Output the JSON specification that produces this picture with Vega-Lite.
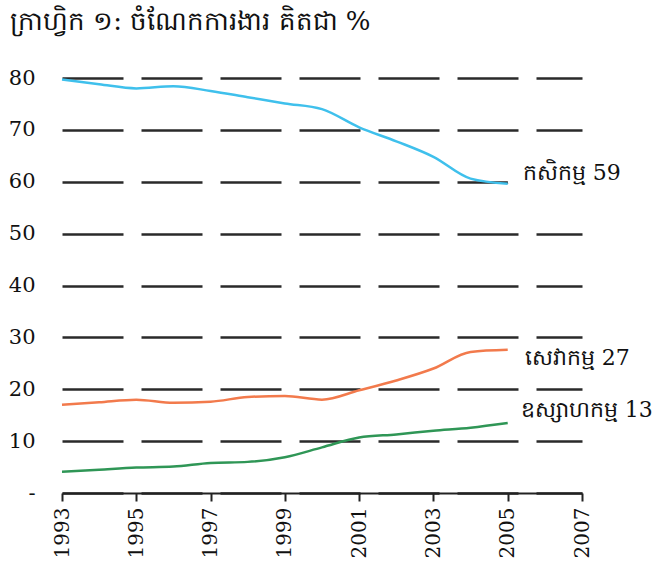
{
  "$schema": "https://vega.github.io/schema/vega-lite/v6.json",
  "autosize": "none",
  "width": 520,
  "height": 415,
  "padding": {"left": 62, "top": 78, "right": 82, "bottom": 71},
  "background": "white",
  "config": {"view": {"stroke": null}, "font": "DejaVu Serif"},
  "title": {
    "text": "ក្រាហ្វិក ១: ចំណែកការងារ គិតជា %",
    "anchor": "start",
    "frame": "group",
    "dx": -52,
    "offset": 32,
    "fontSize": 26,
    "fontWeight": "normal",
    "font": "DejaVu Serif",
    "color": "#111"
  },
  "datasets": {
    "series": [
      {"year": 1993, "sector": "agri", "value": 79.7},
      {"year": 1994, "sector": "agri", "value": 78.8},
      {"year": 1995, "sector": "agri", "value": 78.0},
      {"year": 1996, "sector": "agri", "value": 78.4},
      {"year": 1997, "sector": "agri", "value": 77.5},
      {"year": 1998, "sector": "agri", "value": 76.3},
      {"year": 1999, "sector": "agri", "value": 75.1},
      {"year": 2000, "sector": "agri", "value": 74.0},
      {"year": 2001, "sector": "agri", "value": 70.5},
      {"year": 2002, "sector": "agri", "value": 67.8},
      {"year": 2003, "sector": "agri", "value": 64.8},
      {"year": 2004, "sector": "agri", "value": 60.6},
      {"year": 2005, "sector": "agri", "value": 59.6},
      {"year": 1993, "sector": "serv", "value": 17.0},
      {"year": 1994, "sector": "serv", "value": 17.5},
      {"year": 1995, "sector": "serv", "value": 18.0},
      {"year": 1996, "sector": "serv", "value": 17.4},
      {"year": 1997, "sector": "serv", "value": 17.6},
      {"year": 1998, "sector": "serv", "value": 18.5},
      {"year": 1999, "sector": "serv", "value": 18.7},
      {"year": 2000, "sector": "serv", "value": 18.0},
      {"year": 2001, "sector": "serv", "value": 19.8},
      {"year": 2002, "sector": "serv", "value": 21.7},
      {"year": 2003, "sector": "serv", "value": 24.0},
      {"year": 2004, "sector": "serv", "value": 27.2},
      {"year": 2005, "sector": "serv", "value": 27.6},
      {"year": 1993, "sector": "ind", "value": 4.1},
      {"year": 1994, "sector": "ind", "value": 4.5},
      {"year": 1995, "sector": "ind", "value": 4.9},
      {"year": 1996, "sector": "ind", "value": 5.1},
      {"year": 1997, "sector": "ind", "value": 5.8},
      {"year": 1998, "sector": "ind", "value": 6.0},
      {"year": 1999, "sector": "ind", "value": 6.9},
      {"year": 2000, "sector": "ind", "value": 8.8},
      {"year": 2001, "sector": "ind", "value": 10.7},
      {"year": 2002, "sector": "ind", "value": 11.3},
      {"year": 2003, "sector": "ind", "value": 12.0},
      {"year": 2004, "sector": "ind", "value": 12.6},
      {"year": 2005, "sector": "ind", "value": 13.5}
    ],
    "labels": [
      {"year": 2005, "sector": "agri", "value": 59.6, "label": "កសិកម្ម 59"},
      {"year": 2005, "sector": "serv", "value": 27.6, "label": "សេវាកម្ម  27"},
      {"year": 2005, "sector": "ind", "value": 13.5, "label": "ឧស្សាហកម្ម 13"}
    ]
  },
  "layer": [
    {
      "data": {"name": "labels"},
      "transform": [{"filter": "datum.sector == 'agri'"}],
      "mark": {"type": "point", "shape": "M -1 0 A 1 0.48 0 1 0 1 0 A 1 0.48 0 1 0 -1 0 Z", "size": 15876, "filled": true, "fill": "white", "opacity": 1, "strokeWidth": 0, "xOffset": 63, "yOffset": -4},
      "encoding": {
        "x": {"field": "year", "type": "quantitative"},
        "y": {"field": "value", "type": "quantitative"}
      }
    },
    {
      "data": {"name": "series"},
      "mark": {"type": "line", "strokeWidth": 2.5, "interpolate": "monotone"},
      "encoding": {
        "x": {
          "field": "year", "type": "quantitative",
          "scale": {"domain": [1993, 2007], "nice": false, "zero": false},
          "axis": {
            "title": null,
            "values": [1993,1994,1995,1996,1997,1998,1999,2000,2001,2002,2003,2004,2005,2006,2007],
            "labelExpr": "datum.value % 2 == 1 ? datum.value : ''",
            "labelAngle": -90,
            "labelAlign": "right",
            "labelBaseline": "middle",
            "labelFontSize": 20,
            "labelFont": "DejaVu Serif",
            "labelColor": "#111",
            "labelPadding": 6,
            "labelFlush": false,
            "labelOverlap": false,
            "domainColor": "#222",
            "domainWidth": 2,
            "tickColor": "#222",
            "tickWidth": 2,
            "tickSize": 8,
            "grid": false
          }
        },
        "y": {
          "field": "value", "type": "quantitative",
          "scale": {"domain": [0, 80], "nice": false},
          "axis": {
            "title": null,
            "values": [0,10,20,30,40,50,60,70,80],
            "labelExpr": "datum.value == 0 ? '-' : datum.label",
            "labelFontSize": 21,
            "labelFont": "DejaVu Serif",
            "labelColor": "#111",
            "labelPadding": 27,
            "domain": false,
            "ticks": false,
            "grid": true,
            "gridColor": "#2a2a2a",
            "gridWidth": 2.5,
            "gridDash": [61, 18]
          }
        },
        "color": {
          "field": "sector", "type": "nominal",
          "scale": {"domain": ["agri", "serv", "ind"], "range": ["#3fc0ec", "#f27a4c", "#2f9656"]},
          "legend": null
        }
      }
    },
    {
      "data": {"name": "labels"},
      "transform": [{"filter": "datum.sector == 'agri'"}],
      "mark": {"type": "text", "align": "left", "baseline": "middle", "dx": 15, "dy": -11, "fontSize": 22, "font": "DejaVu Serif", "color": "#111"},
      "encoding": {
        "x": {"field": "year", "type": "quantitative"},
        "y": {"field": "value", "type": "quantitative"},
        "text": {"field": "label"}
      }
    },
    {
      "data": {"name": "labels"},
      "transform": [{"filter": "datum.sector == 'serv'"}],
      "mark": {"type": "text", "align": "left", "baseline": "middle", "dx": 17, "dy": 8, "fontSize": 22, "font": "DejaVu Serif", "color": "#111"},
      "encoding": {
        "x": {"field": "year", "type": "quantitative"},
        "y": {"field": "value", "type": "quantitative"},
        "text": {"field": "label"}
      }
    },
    {
      "data": {"name": "labels"},
      "transform": [{"filter": "datum.sector == 'ind'"}],
      "mark": {"type": "text", "align": "left", "baseline": "middle", "dx": 13, "dy": -13, "fontSize": 22, "font": "DejaVu Serif", "color": "#111"},
      "encoding": {
        "x": {"field": "year", "type": "quantitative"},
        "y": {"field": "value", "type": "quantitative"},
        "text": {"field": "label"}
      }
    }
  ]
}
